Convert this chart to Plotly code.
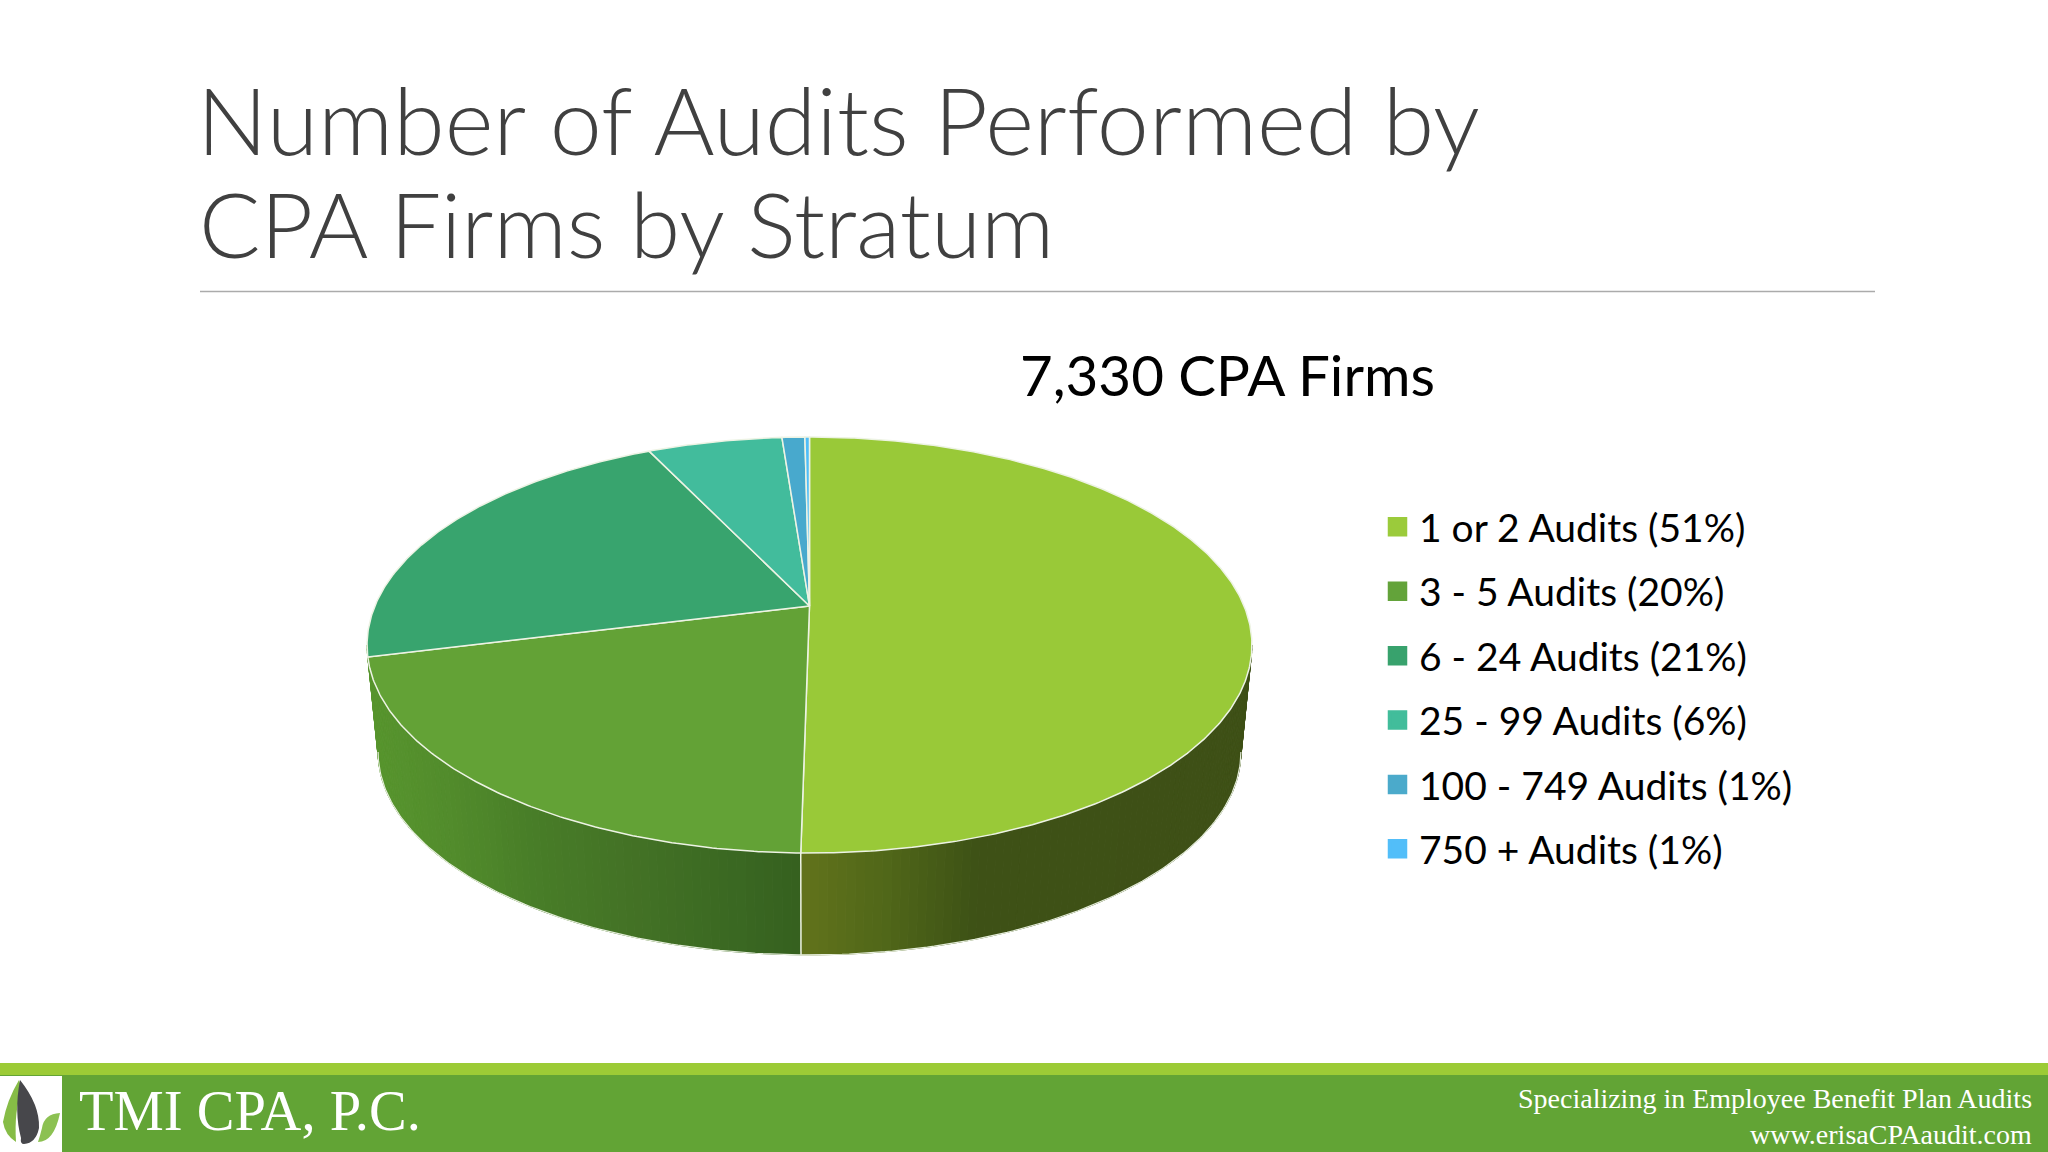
import numpy as np
import plotly.graph_objects as go

# ---- data ----
legend_labels = ["1 or 2 Audits (51%)", "3 - 5 Audits (20%)", "6 - 24 Audits (21%)",
                 "25 - 99 Audits (6%)", "100 - 749 Audits (1%)", "750 + Audits (1%)"]
slice_values = [50.26, 20.84, 21.8, 5.9, 1.0, 0.2]
slice_colors = ["#99C938", "#63A236", "#38A46E", "#42BC9C", "#48A9CD", "#4FBDF8"]
legend_colors = ["#9BCB3B", "#63A33A", "#38A26D", "#42BD9B", "#4BAACB", "#52BEF9"]
# side wall shading: screen x -> colour, for the two visible slices
wall_x = [[803, 888, 976, 1260], [360, 448, 536, 624, 741, 801]]
wall_rgb = [[(98, 115, 28), (80, 103, 25), (62, 82, 22), (62, 80, 22)],
            [(88, 150, 46), (82, 140, 44), (72, 125, 40), (68, 115, 38), (58, 104, 34), (54, 97, 31)]]
title_line1 = "Number of Audits Performed by"
title_line2 = "CPA Firms by Stratum"
subtitle_text = "7,330 CPA Firms"
firm_name = "TMI CPA, P.C."
tagline = "Specializing in Employee Benefit Plan Audits"
website = "www.erisaCPAaudit.com"

# ---- tilted-disc geometry (pixel space of the 2048x1152 slide) ----
CX, CY, A, B, K = 809.5, 606.0, 434.6, 200.7, 0.1875
BOTTOM_SCALE, BOTTOM_DY = 0.975, 108.0
ANGLE_L, ANGLE_R = 259.2, 100.8


def rim(deg, scale=1.0, dy=0.0):
    p = np.radians(deg)
    w = 1 + K * np.cos(p)
    return CX + scale * A * np.sin(p) / w, CY + dy - scale * B * np.cos(p) / w


fig = go.Figure()
edges = np.concatenate([[0], np.cumsum(slice_values)]) / sum(slice_values) * 360

# side wall bands
n_bands = 160
bands = np.linspace(ANGLE_R, ANGLE_L, n_bands + 1)
for a0, a1 in zip(bands[:-1], bands[1:]):
    xt0, yt0 = rim(a0)
    xt1, yt1 = rim(a1)
    xb0, yb0 = rim(a0, BOTTOM_SCALE, BOTTOM_DY)
    xb1, yb1 = rim(a1, BOTTOM_SCALE, BOTTOM_DY)
    mid = (a0 + a1) / 2
    idx = 0 if mid < edges[1] else 1
    xm = (xt0 + xt1) / 2
    rgb = [np.interp(xm, wall_x[idx], [c[i] for c in wall_rgb[idx]]) for i in range(3)]
    col = "rgb(%d,%d,%d)" % tuple(rgb)
    fig.add_trace(go.Scatter(x=[xt0, xt1, xb1, xb0, xt0], y=[yt0, yt1, yb1, yb0, yt0], mode="lines",
                             fill="toself", fillcolor=col, line=dict(color=col, width=1),
                             showlegend=False, hoverinfo="skip"))

# light outline of the lower rim
arc = np.linspace(ANGLE_R, ANGLE_L, 200)
xa, ya = rim(arc, BOTTOM_SCALE, BOTTOM_DY)
fig.add_trace(go.Scatter(x=xa, y=ya, mode="lines", line=dict(color="#E6EEDC", width=1.2),
                         showlegend=False, hoverinfo="skip"))
# seam on the wall at the slice boundary
xs0, ys0 = rim(edges[1])
xs1, ys1 = rim(edges[1], BOTTOM_SCALE, BOTTOM_DY)
fig.add_trace(go.Scatter(x=[xs0, xs1], y=[ys0, ys1], mode="lines", line=dict(color="#EEF3E6", width=1.5),
                         showlegend=False, hoverinfo="skip"))

# top face slices
for i in range(len(slice_values)):
    ang = np.linspace(edges[i], edges[i + 1], max(3, int((edges[i + 1] - edges[i]) * 2)))
    xr, yr = rim(ang)
    fig.add_trace(go.Scatter(x=np.concatenate([[CX], xr, [CX]]), y=np.concatenate([[CY], yr, [CY]]),
                             mode="lines", fill="toself", fillcolor=slice_colors[i],
                             line=dict(color="#EDF3E4", width=1.5), showlegend=False,
                             name=legend_labels[i], hoverinfo="name"))

# legend entries
for i, lab in enumerate(legend_labels):
    fig.add_trace(go.Scatter(x=[None], y=[None], mode="markers", name=lab, legendgroup=lab,
                             marker=dict(symbol="square", size=16, color=legend_colors[i],
                                         line=dict(color=legend_colors[i], width=3.5))))

shapes = [
    dict(type="line", xref="x", yref="y", x0=200, x1=1875, y0=291.5, y1=291.5, line=dict(color="#ABABAB", width=1.5)),
    dict(type="rect", xref="x", yref="y", x0=0, x1=2048, y0=1063, y1=1076, fillcolor="#9CCB36", line_width=0, layer="below"),
    dict(type="rect", xref="x", yref="y", x0=0, x1=2048, y0=1075, y1=1152, fillcolor="#62A435", line_width=0, layer="below"),
    dict(type="rect", xref="x", yref="y", x0=0, x1=62, y0=1076, y1=1152, fillcolor="#FFFFFF", line_width=0, layer="below"),
    dict(type="path", xref="x", yref="y", path="M 19 1080 Q 7 1100 3 1122 Q 5 1135 16 1142 Q 14 1110 22 1090 Z",
         fillcolor="#86BC46", line_width=0),
    dict(type="path", xref="x", yref="y", path="M 20 1080 Q 40 1105 39 1128 Q 36 1143 24 1144 Q 20 1144 21 1138 Q 14 1112 20 1080 Z",
         fillcolor="#47474B", line_width=0),
    dict(type="path", xref="x", yref="y", path="M 60 1113 Q 44 1114 42 1128 Q 40 1136 38 1142 Q 54 1142 60 1113 Z",
         fillcolor="#8CC152", line_width=0),
]

annotations = [
    dict(text=title_line2, x=197, y=222, xref="x", yref="y", xanchor="left", yanchor="middle", showarrow=False,
         font=dict(family="Lato", size=91, color="#404040", weight=300)),
    dict(text=subtitle_text, x=1227, y=373.5, xref="x", yref="y", xanchor="center", yanchor="middle", showarrow=False,
         font=dict(family="Lato", size=56.5, color="#000000")),
    dict(text=firm_name, x=77, y=1111, xref="x", yref="y", xanchor="left", yanchor="middle", showarrow=False,
         font=dict(family="Liberation Serif", size=56.5, color="#FFFFFF")),
    dict(text=tagline, x=2034, y=1098, xref="x", yref="y", xanchor="right", yanchor="middle", showarrow=False,
         font=dict(family="Liberation Serif", size=28, color="#FFFFFF")),
    dict(text=website, x=2034, y=1134, xref="x", yref="y", xanchor="right", yanchor="middle", showarrow=False,
         font=dict(family="Liberation Serif", size=28, color="#FFFFFF")),
]

fig.update_layout(
    width=2048, height=1152, margin=dict(l=0, r=0, t=0, b=0),
    paper_bgcolor="#FFFFFF", plot_bgcolor="#FFFFFF",
    xaxis=dict(range=[0, 2048], visible=False, fixedrange=True),
    yaxis=dict(range=[1152, 0], visible=False, fixedrange=True),
    title=dict(text=title_line1, x=197 / 2048, xanchor="left", xref="paper", y=1 - 122 / 1152, yanchor="middle", yref="paper",
               font=dict(family="Lato", size=93.4, color="#404040", weight=300)),
    legend=dict(x=1376 / 2048, y=1 - 495 / 1152, xanchor="left", yanchor="top", bgcolor="rgba(0,0,0,0)", itemwidth=33,
                font=dict(family="Lato", size=39, color="#000000"), tracegroupgap=10.7, itemclick=False, itemdoubleclick=False),
    shapes=shapes, annotations=annotations, hovermode="closest",
)
fig.write_html("out.html", config={"displayModeBar": False},
               post_script="document.body.style.margin='0';document.documentElement.style.overflow='hidden';")
